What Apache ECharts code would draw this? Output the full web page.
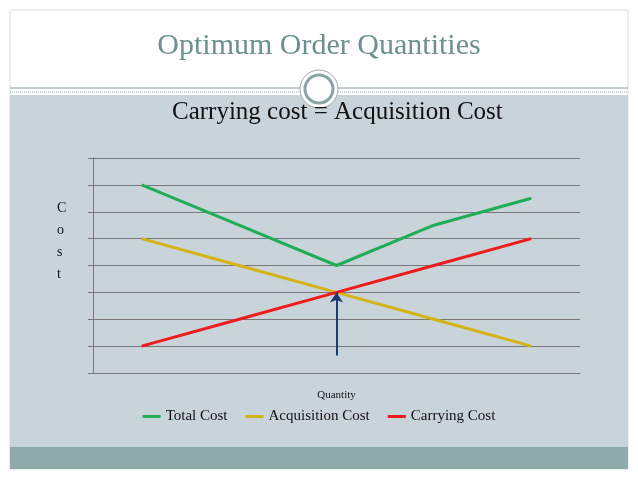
<!DOCTYPE html>
<html><head><meta charset="utf-8">
<script src="https://cdn.jsdelivr.net/npm/echarts@6/dist/echarts.min.js"></script>
<style>html,body{margin:0;padding:0;background:#fff}#c{width:638px;height:479px}</style>
</head><body><div id="c"></div>
<script>
const categories = ['Q1','Q2','Q3','Q4','Q5'];
const totalCost = [7, 5.5, 4, 5.5, 6.5];
const acquisitionCost = [5, 4, 3, 2, 1];
const carryingCost = [1, 2, 3, 4, 5];
const arrowFrom = [2, 0.65], arrowTo = [2, 3];
const serif = '"Liberation Serif","DejaVu Serif",serif';
const chart = echarts.init(document.getElementById('c'));
chart.setOption({
  animation:false,
  backgroundColor:'#fff',
  graphic:[
    {type:'rect',z:-10,shape:{x:10,y:10,width:618,height:459},style:{fill:'none',stroke:'#d8dede',lineWidth:1}},
    {type:'rect',z:-10,shape:{x:10,y:95,width:618,height:352},style:{fill:'#c9d4da'}},
    {type:'rect',z:-10,shape:{x:10,y:447,width:618,height:22},style:{fill:'#8eaaaa'}},
    {type:'line',shape:{x1:10,y1:88,x2:628,y2:88},style:{stroke:'#8a9a9a',lineWidth:1}},
    {type:'line',shape:{x1:10,y1:92,x2:628,y2:92},style:{stroke:'#a0b0b0',lineWidth:1,lineDash:[1,1]}},
    {type:'circle',shape:{cx:319,cy:89,r:19},style:{fill:'#fff',stroke:'#9aa',lineWidth:1}},
    {type:'circle',shape:{cx:319,cy:89,r:14},style:{fill:'#fff',stroke:'#8aa4a4',lineWidth:3}},
    {type:'text',left:'center',top:31,style:{text:'Optimum Order Quantities',font:'30px '+serif,fill:'#6e8f8f'}},
    {type:'text',left:172,top:100,style:{text:'Carrying cost = Acquisition Cost',font:'25px '+serif,fill:'#111'}},
    {type:'text',left:57,top:197,style:{text:'C\no\ns\nt',font:'14px '+serif,fill:'#111',lineHeight:22}}
  ],
  grid:{left:93,right:58,top:158,bottom:106},
  legend:{bottom:50,left:'center',itemWidth:18,itemHeight:3,icon:'rect',itemGap:18,
    textStyle:{fontFamily:serif,fontSize:15,color:'#111'}},
  xAxis:{type:'category',data:categories,name:'Quantity',nameLocation:'middle',nameGap:17,
    nameTextStyle:{fontFamily:serif,fontSize:11,color:'#111'},
    axisLabel:{show:false},axisLine:{lineStyle:{color:'#777'}},axisTick:{length:5,lineStyle:{color:'#777'}}},
  yAxis:{type:'value',min:0,max:8,interval:1,axisLabel:{show:false},
    axisLine:{show:true,lineStyle:{color:'#777'}},axisTick:{show:true,length:5,lineStyle:{color:'#777'}},
    splitLine:{lineStyle:{color:'#777'}}},
  series:[
    {name:'Total Cost',type:'line',data:totalCost,symbol:'none',lineStyle:{width:3,color:'#1fae55'},itemStyle:{color:'#1fae55'}},
    {name:'Acquisition Cost',type:'line',data:acquisitionCost,symbol:'none',lineStyle:{width:3,color:'#d4b414'},itemStyle:{color:'#d4b414'}},
    {name:'Carrying Cost',type:'line',data:carryingCost,symbol:'none',lineStyle:{width:3,color:'#ee1c1c'},itemStyle:{color:'#ee1c1c'},
      markLine:{silent:true,symbol:['none','arrow'],symbolSize:10,label:{show:false},
        lineStyle:{color:'#1f3a6e',width:2,type:'solid'},
        data:[[{coord:arrowFrom},{coord:arrowTo}]]}}
  ]
});
</script></body></html>
